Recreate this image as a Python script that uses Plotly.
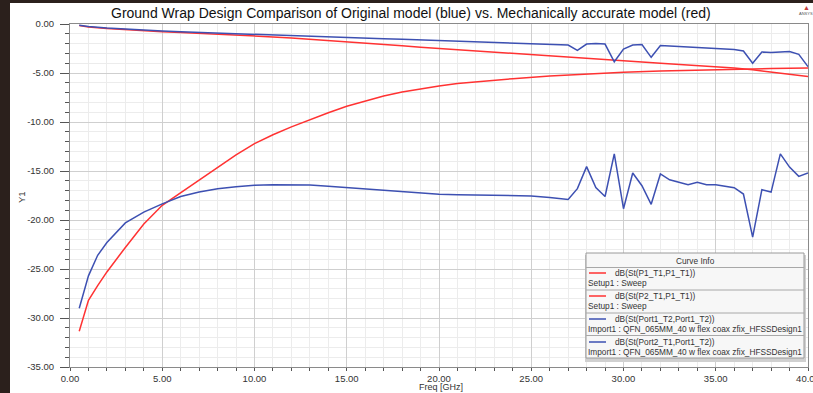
import plotly.graph_objects as go

# ---------------- data ----------------
freq_red_s11 = [0.5, 1, 1.5, 2, 3, 4, 5, 6, 7, 8, 9, 10, 11, 12, 13, 14, 15, 16, 17, 18, 19, 20,
                21, 22, 23, 24, 26, 28, 30, 32, 34, 36, 38, 40]
red_s11 = [-31.35, -28.2, -26.7, -25.3, -22.8, -20.4, -18.5, -17.2, -15.95, -14.6, -13.35, -12.2,
           -11.3, -10.5, -9.75, -9.05, -8.4, -7.85, -7.35, -6.95, -6.62, -6.32, -6.08, -5.9, -5.72,
           -5.58, -5.3, -5.08, -4.92, -4.8, -4.7, -4.62, -4.55, -4.48]

freq_red_s21 = [0.5, 1, 2, 3, 4, 5, 6, 7, 8, 9, 10, 11, 12, 13, 14, 15, 16, 17, 18, 19, 20, 21, 22,
                23, 24, 25, 26, 27, 28, 29, 30, 31, 32, 33, 34, 35, 36, 37, 38, 39, 40]
red_s21 = [-0.15, -0.3, -0.45, -0.58, -0.68, -0.78, -0.86, -0.94, -1.02, -1.1, -1.2, -1.32, -1.44,
           -1.56, -1.69, -1.83, -1.96, -2.09, -2.23, -2.37, -2.5, -2.64, -2.79, -2.9, -3.0, -3.12,
           -3.24, -3.37, -3.5, -3.63, -3.76, -3.88, -4.0, -4.12, -4.24, -4.36, -4.5, -4.68, -4.88,
           -5.1, -5.35]

freq_blue_s21 = [0.5, 1, 2, 3, 4, 5, 6, 7, 8, 9, 10, 11, 12, 13, 14, 15, 16, 17, 18, 19, 20, 21, 22,
                 23, 24, 25, 26, 27, 27.5, 28, 28.5, 29, 29.5, 30, 30.5, 31, 31.5, 32, 32.5, 33, 33.5,
                 34, 34.5, 35, 35.5, 36, 36.5, 37, 37.5, 38, 38.5, 39, 39.5, 40]
blue_s21 = [-0.12, -0.25, -0.4, -0.52, -0.62, -0.72, -0.8, -0.87, -0.94, -1.01, -1.08, -1.15, -1.22,
            -1.28, -1.33, -1.38, -1.44, -1.5, -1.56, -1.62, -1.67, -1.72, -1.78, -1.85, -1.92, -2.0,
            -2.08, -2.15, -2.7, -2.05, -2.0, -2.05, -3.85, -2.55, -2.15, -2.1, -3.4, -2.2, -2.25,
            -2.3, -2.33, -2.38, -2.4, -2.45, -2.5, -2.6, -2.75, -4.0, -2.85, -2.9, -2.85, -2.8,
            -3.1, -4.35]

freq_blue_s11 = [0.5, 1, 1.5, 2, 3, 4, 5, 6, 7, 8, 9, 10, 11, 12, 13, 14, 15, 16, 17, 18, 19, 20,
                 21, 22, 23, 24, 25, 26, 27, 27.5, 28, 28.5, 29, 29.5, 30, 30.5, 31, 31.5, 32, 32.5,
                 33, 33.5, 34, 34.5, 35, 35.5, 36, 36.5, 37, 37.5, 38, 38.5, 39, 39.5, 40]
blue_s11 = [-29.0, -25.7, -23.6, -22.3, -20.3, -19.2, -18.35, -17.6, -17.15, -16.8, -16.6, -16.45,
            -16.4, -16.4, -16.42, -16.55, -16.7, -16.85, -17.0, -17.15, -17.3, -17.38, -17.42,
            -17.45, -17.5, -17.52, -17.55, -17.7, -17.9, -16.8, -14.55, -16.7, -17.6, -13.25,
            -18.85, -15.2, -16.5, -18.4, -15.3, -15.9, -16.15, -16.4, -16.15, -16.4, -16.4,
            -16.55, -16.7, -17.35, -21.75, -16.9, -17.15, -13.25, -14.6, -15.55, -15.2]

x_tick_vals = [0, 5, 10, 15, 20, 25, 30, 35, 40]
x_tick_text = ["0.00", "5.00", "10.00", "15.00", "20.00", "25.00", "30.00", "35.00", "40.00"]
y_tick_vals = [0, -5, -10, -15, -20, -25, -30, -35]
y_tick_text = ["0.00", "-5.00", "-10.00", "-15.00", "-20.00", "-25.00", "-30.00", "-35.00"]

series_names = ["dB(St(P1_T1,P1_T1))", "dB(St(P2_T1,P1_T1))",
                "dB(St(Port1_T2,Port1_T2))", "dB(St(Port2_T1,Port1_T2))"]
series_sub = ["Setup1 : Sweep", "Setup1 : Sweep",
              "Import1 : QFN_065MM_40 w flex coax zfix_HFSSDesign1",
              "Import1 : QFN_065MM_40 w flex coax zfix_HFSSDesign1"]

title_text = "Ground Wrap Design Comparison of Original model (blue) vs. Mechanically accurate model (red)"

RED = "#ff3232"
BLUE = "#3d50b2"
FONT = "Liberation Sans, Arial, sans-serif"
DARK = "#2b201c"

# ---------------- figure ----------------
W, H = 813, 393
ML, MR, MT, MB = 70, 5, 24, 26
PW, PH = W - ML - MR, H - MT - MB


def px(x):
    return (x - ML) / PW


def py(y):
    return (H - MB - y) / PH


fig = go.Figure()
for xs, ys, c in [(freq_red_s11, red_s11, RED), (freq_red_s21, red_s21, RED),
                  (freq_blue_s11, blue_s11, BLUE), (freq_blue_s21, blue_s21, BLUE)]:
    fig.add_trace(go.Scatter(x=xs, y=ys, mode="lines", line=dict(color=c, width=1.5),
                             showlegend=False, hoverinfo="skip"))

axis_common = dict(showline=True, linecolor="#8a8a8a", linewidth=1, mirror=True,
                   ticks="outside", tickcolor="#555555", showgrid=True, gridcolor="#cfcfcf",
                   gridwidth=1, zeroline=False, ticklabeloverflow="allow", automargin=False,
                   tickfont=dict(family=FONT, size=9.5, color="#333333"))

fig.update_xaxes(range=[0, 40], tickmode="array", tickvals=x_tick_vals, ticktext=x_tick_text,
                 ticklen=3, ticklabelstandoff=0,
                 minor=dict(tickmode="linear", tick0=0, dtick=1, ticks="outside", ticklen=3,
                            tickcolor="#555555", showgrid=True, gridcolor="#ececec"),
                 **axis_common)
fig.update_yaxes(range=[-35, 0], tickmode="array", tickvals=y_tick_vals, ticktext=y_tick_text,
                 ticklen=9, ticklabelstandoff=4,
                 minor=dict(tickmode="linear", tick0=0, dtick=1, ticks="outside", ticklen=4,
                            tickcolor="#555555", showgrid=True, gridcolor="#ececec"),
                 **axis_common)

shapes = []
annotations = []
# white panel over dark frame
shapes.append(dict(type="rect", xref="paper", yref="paper", x0=px(10), x1=px(W + 5),
                   y0=py(3), y1=py(H + 5), fillcolor="white", line=dict(width=0), layer="below"))

# title and axis titles
annotations.append(dict(text=title_text, xref="paper", yref="paper", x=px(411), y=py(13),
                        xanchor="center", yanchor="middle", showarrow=False,
                        font=dict(family=FONT, size=14, color="#111111")))
annotations.append(dict(text="Y1", xref="paper", yref="paper", x=px(22), y=py(197),
                        xanchor="center", yanchor="middle", showarrow=False, textangle=-90,
                        font=dict(family=FONT, size=9.5, color="#333333")))
annotations.append(dict(text="Freq [GHz]", xref="paper", yref="paper", x=px(441), y=py(386.5),
                        xanchor="center", yanchor="middle", showarrow=False,
                        font=dict(family=FONT, size=9, color="#333333")))
# small logo at top right
annotations.append(dict(text="▲", xref="paper", yref="paper", x=px(806), y=py(8),
                        xanchor="center", yanchor="middle", showarrow=False,
                        font=dict(family=FONT, size=7, color="#c23b3b")))
annotations.append(dict(text="ANSYS", xref="paper", yref="paper", x=px(806), y=py(14),
                        xanchor="center", yanchor="middle", showarrow=False,
                        font=dict(family=FONT, size=4, color="#555555")))

# custom "Curve Info" box
LX0, LX1, LY0, LY1 = 586, 804, 253, 358
shapes.append(dict(type="rect", xref="paper", yref="paper", x0=px(LX0 - 1), x1=px(LX1 + 2),
                   y0=py(LY1 + 4), y1=py(LY0 + 2), fillcolor="#d0d0d0", line=dict(width=0)))
shapes.append(dict(type="rect", xref="paper", yref="paper", x0=px(LX0), x1=px(LX1),
                   y0=py(LY1), y1=py(LY0), fillcolor="#f7f7f7",
                   line=dict(color="#9a9a9a", width=1)))
annotations.append(dict(text="Curve Info", xref="paper", yref="paper", x=px((LX0 + LX1) / 2),
                        y=py(261), xanchor="center", yanchor="middle", showarrow=False,
                        font=dict(family=FONT, size=8.3, color="#333333")))
seps = [267.5, 290, 313, 335.5]
row_y = [273, 296, 319, 342]
colors = [RED, RED, BLUE, BLUE]
for s in seps:
    shapes.append(dict(type="line", xref="paper", yref="paper", x0=px(LX0), x1=px(LX1),
                       y0=py(s), y1=py(s), line=dict(color="#a8a8a8", width=1)))
for name, sub, yy, c in zip(series_names, series_sub, row_y, colors):
    shapes.append(dict(type="line", xref="paper", yref="paper", x0=px(589), x1=px(606),
                       y0=py(yy), y1=py(yy), line=dict(color=c, width=1.5)))
    annotations.append(dict(text=name, xref="paper", yref="paper", x=px(613), y=py(yy),
                            xanchor="left", yanchor="middle", showarrow=False,
                            font=dict(family=FONT, size=8.3, color="#333333")))
    annotations.append(dict(text=sub, xref="paper", yref="paper", x=px(586), y=py(yy + 10),
                            xanchor="left", yanchor="middle", showarrow=False,
                            font=dict(family=FONT, size=8.3, color="#333333")))

fig.update_layout(width=W, height=H, margin=dict(l=ML, r=MR, t=MT, b=MB, pad=0, autoexpand=False),
                  paper_bgcolor=DARK, plot_bgcolor="white",
                  shapes=shapes, annotations=annotations, showlegend=False,
                  font=dict(family=FONT))

fig.write_html("out.html", config={"displayModeBar": False, "staticPlot": True},
               post_script="document.body.style.margin='0';"
                           "document.body.style.overflow='hidden';"
                           "document.body.style.background='" + DARK + "';")
